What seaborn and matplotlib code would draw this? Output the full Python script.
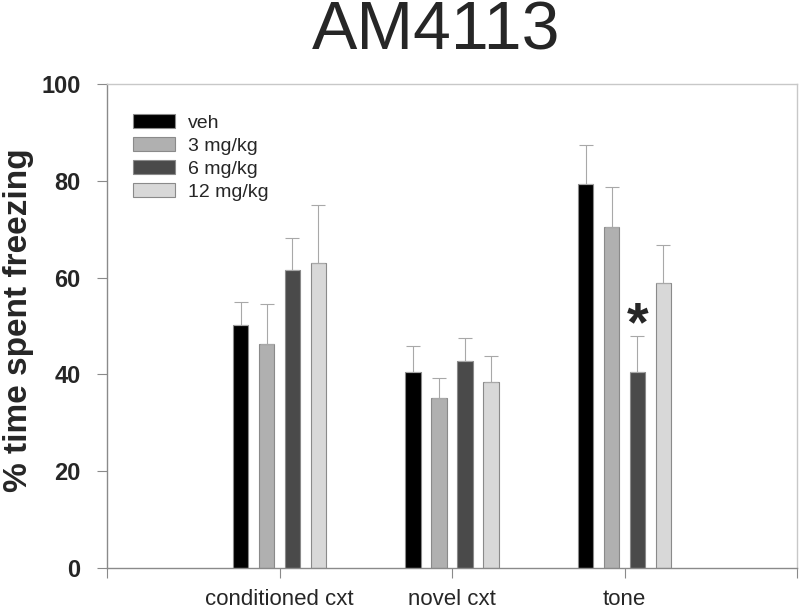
#!/usr/bin/env python3

import pandas as pd
import numpy as np
import seaborn as sns
import matplotlib.pyplot as plt

# data
conditions = ['conditioned cxt', 'novel cxt', 'tone']
doses = ['veh', '3 mg/kg', '6 mg/kg', '12 mg/kg']
veh = [50.3, 40.5, 79.4]
mg3 = [46.2, 35.2, 70.4]
mg6 = [61.5, 42.8, 40.5]
mg12 = [63.0, 38.5, 58.9]
veh_sem = [4.6, 5.4, 7.9]
mg3_sem = [8.3, 4.1, 8.4]
mg6_sem = [6.6, 4.8, 7.5]
mg12_sem = [12.0, 5.3, 7.8]

colors = ['#000000', '#b0b0b0', '#4a4a4a', '#d8d8d8']


def make_plot():
    means = [veh, mg3, mg6, mg12]
    sems = [veh_sem, mg3_sem, mg6_sem, mg12_sem]
    rows = []
    for d, m, s in zip(doses, means, sems):
        for c, v, e in zip(conditions, m, s):
            rows.append({'condition': c, 'dose': d, 'freezing': v, 'sem': e})
    df = pd.DataFrame(rows)

    sns.set_style('white')
    plt.rcParams['font.family'] = ['Liberation Sans', 'DejaVu Sans']

    fig = plt.figure(figsize=(8, 6.09), dpi=100)
    ax = fig.add_axes([107 / 800, 1 - 568 / 609, 690 / 800, 484 / 609])

    sns.barplot(data=df, x='condition', y='freezing', hue='dose',
                order=conditions, hue_order=doses,
                palette=dict(zip(doses, colors)), errorbar=None,
                width=0.6, gap=0.4, edgecolor='#8a8a8a', linewidth=0.8,
                ax=ax)

    # one-sided (upper) error bars on each bar
    for d, cont in zip(doses, ax.containers):
        sub = df[df['dose'] == d].set_index('condition').loc[conditions]
        xs = [p.get_x() + p.get_width() / 2 for p in cont.patches]
        ax.errorbar(xs, sub['freezing'], yerr=[np.zeros(len(xs)), sub['sem']],
                    fmt='none', ecolor='#a8a8a8', elinewidth=0.8,
                    capsize=5, capthick=0.8, zorder=1)

    # significance marker on 6 mg/kg tone bar
    p6 = ax.containers[2].patches[2]
    ax.text(p6.get_x() + p6.get_width() / 2, mg6[2] + mg6_sem[2] - 1, '*',
            ha='center', va='baseline', fontsize=40, fontweight='bold')

    ax.set_xlim(-1, 3)
    ax.set_ylim(0, 100)
    ax.set_xticks([-1, 0, 1, 2, 3])
    ax.set_xticklabels([''] + conditions + [''], fontsize=16)
    ax.set_yticks([0, 20, 40, 60, 80, 100])
    ax.set_yticklabels(['0', '20', '40', '60', '80', '100'],
                       fontsize=17, fontweight='bold')
    ax.tick_params(axis='x', direction='out', length=7, width=0.8,
                   color='#8a8a8a', pad=8, bottom=True)
    ax.tick_params(axis='y', direction='out', length=7, width=0.8,
                   color='#8a8a8a', pad=12, left=True)
    ax.set_xlabel('')
    ax.set_ylabel('% time spent freezing', fontsize=24, fontweight='bold')
    ax.yaxis.set_label_coords(-0.106, 0.512)
    for side in ['left', 'bottom']:
        ax.spines[side].set_color('#8a8a8a')
        ax.spines[side].set_linewidth(1.0)
    for side in ['top', 'right']:
        ax.spines[side].set_color('#c8c8c8')
        ax.spines[side].set_linewidth(1.0)

    ax.legend(loc='upper left', bbox_to_anchor=(0.0377, 0.938), frameon=False,
              fontsize=14, handlelength=2.16, handleheight=0.72,
              labelspacing=0.27, handletextpad=0.67, borderpad=0,
              borderaxespad=0, title=None)

    fig.text(436 / 800, 1 - 49 / 609, 'AM4113', ha='center', va='baseline',
             fontsize=49)

    plt.savefig('out.png', dpi=100)


if __name__ == '__main__':
    make_plot()
